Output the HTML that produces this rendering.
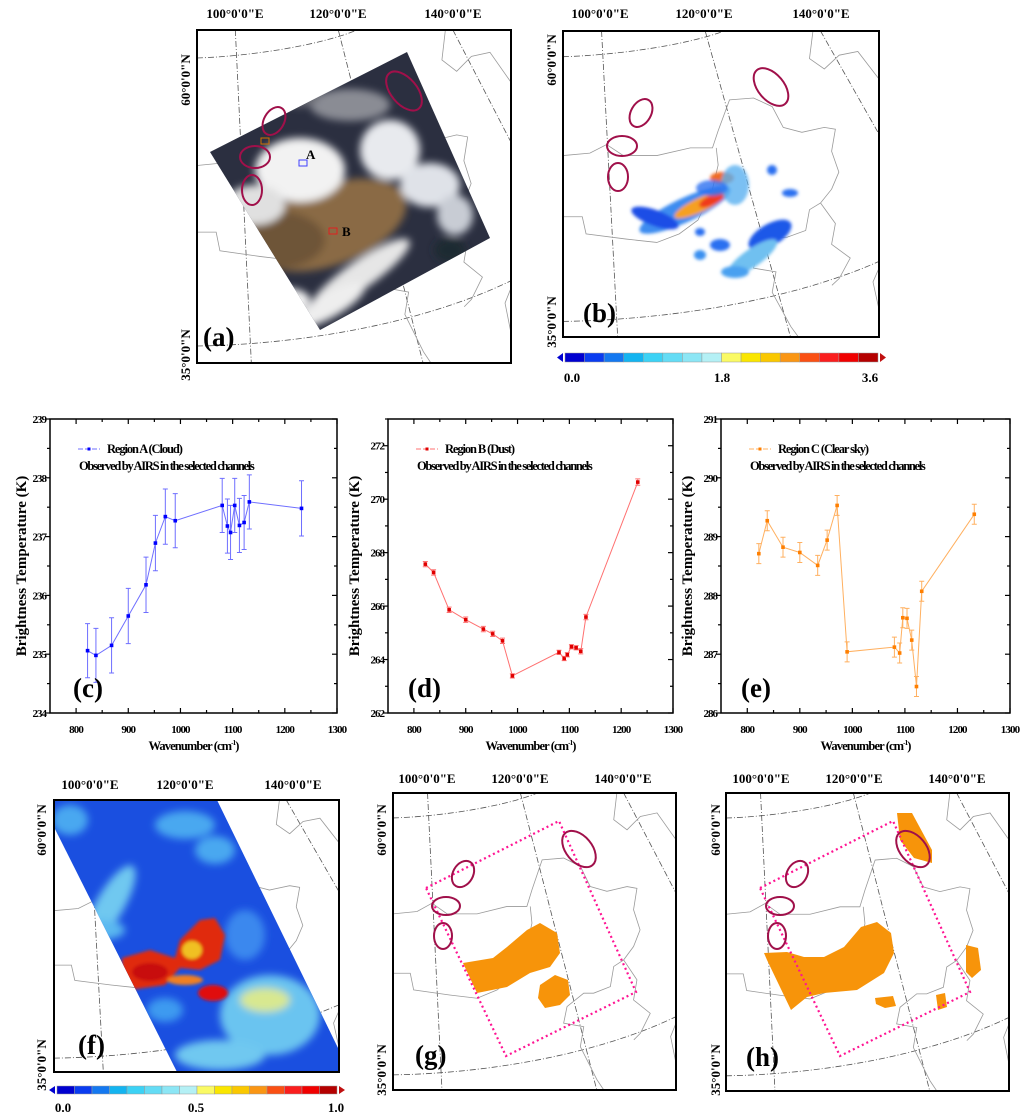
<!DOCTYPE html>
<html><head><meta charset="utf-8">
<style>
html,body{margin:0;padding:0;background:#fff;}
svg{display:block;font-family:"Liberation Serif",serif;}
.lbl{font-weight:bold;font-size:13px;}
.pl{font-weight:bold;font-size:27px;}
</style></head>
<body>
<svg id="fig" width="1024" height="1116" viewBox="0 0 1024 1116" xmlns="http://www.w3.org/2000/svg">
<defs>
<symbol id="basemap" viewBox="0 0 1000 1000" preserveAspectRatio="none">
 <g fill="none" stroke="#555" stroke-width="0.8" stroke-dasharray="6,2,1,2">
  <path vector-effect="non-scaling-stroke" d="M0,84 C150,80 380,50 510,0"/>
  <path vector-effect="non-scaling-stroke" d="M0,949 C300,945 700,890 1000,753"/>
  <path vector-effect="non-scaling-stroke" d="M122,0 L173,1000"/>
  <path vector-effect="non-scaling-stroke" d="M450,0 L720,1000"/>
  <path vector-effect="non-scaling-stroke" d="M815,0 L1000,337"/>
 </g>
 <g fill="none" stroke="#9a9a9a" stroke-width="0.8">
  <path vector-effect="non-scaling-stroke" d="M0,407 L85,399 L138,371 L191,407 L297,407 L403,382 L473,382 L491,326 L527,225 L603,219 L662,247 L697,315 L756,331 L827,315 L862,321 L850,393 L873,461 L850,517 L815,562 L780,584 L768,652 L709,674 L674,674 L615,719 L603,775 L674,787 L662,854 L721,966 L745,1000"/>
  <path vector-effect="non-scaling-stroke" d="M0,607 L61,607 L73,663 L200,680 L297,691 L368,663 L427,618 L473,517 L491,438 L485,382"/>
  <path vector-effect="non-scaling-stroke" d="M815,562 L862,629 L850,697 L909,742 L874,809 L851,831"/>
  <path vector-effect="non-scaling-stroke" d="M791,0 L780,90 L827,124 L874,79 L933,67 L1000,157"/>
  <path vector-effect="non-scaling-stroke" d="M1000,775 L981,820 L1000,910"/>
 </g>
</symbol>
<clipPath id="ca"><rect x="197" y="30" width="314" height="333"/></clipPath>
<clipPath id="cb"><rect x="563" y="31" width="316" height="306"/></clipPath>
<clipPath id="cf"><rect x="54" y="800" width="285" height="272"/></clipPath>
<clipPath id="cg"><rect x="393" y="793" width="283" height="297"/></clipPath>
<clipPath id="ch"><rect x="726" y="793" width="283" height="298"/></clipPath>
<clipPath id="satclip"><polygon points="407,52 490,238 320,330 210,152"/></clipPath>
<clipPath id="swclip"><polygon points="54,800 217,800 339,1050 339,1072 177,1072 54,827"/></clipPath>
<filter id="blur3"><feGaussianBlur stdDeviation="4"/></filter>
<filter id="blur2"><feGaussianBlur stdDeviation="1.5"/></filter>
</defs>

<!-- ===== Map (a) ===== -->
<g>
 <g clip-path="url(#ca)">
  <use href="#basemap" x="197" y="30" width="314" height="333"/>
  <g clip-path="url(#satclip)">
   <rect x="200" y="40" width="300" height="300" fill="#2b2f40"/>
   <g filter="url(#blur3)">
    <ellipse cx="330" cy="225" rx="80" ry="40" fill="#8a6a45" transform="rotate(-20 330 225)"/>
    <ellipse cx="270" cy="240" rx="55" ry="30" fill="#6e5538"/>
    <ellipse cx="300" cy="170" rx="45" ry="32" fill="#f2f2f2"/>
    <ellipse cx="255" cy="205" rx="30" ry="20" fill="#e0e0e0"/>
    <ellipse cx="390" cy="150" rx="30" ry="30" fill="#e8eaee"/>
    <ellipse cx="430" cy="185" rx="30" ry="22" fill="#dfe2e8"/>
    <ellipse cx="455" cy="215" rx="18" ry="20" fill="#c8ccd4"/>
    <ellipse cx="360" cy="275" rx="60" ry="14" fill="#e6e6e6" transform="rotate(-35 360 275)"/>
    <ellipse cx="330" cy="305" rx="40" ry="12" fill="#eeeeee" transform="rotate(-30 330 305)"/>
    <ellipse cx="350" cy="105" rx="40" ry="16" fill="#8a8c94"/>
    <ellipse cx="300" cy="95" rx="20" ry="12" fill="#6a6c74"/>
    <ellipse cx="450" cy="250" rx="16" ry="12" fill="#1e2a30"/>
    <ellipse cx="285" cy="300" rx="25" ry="12" fill="#f4f4f4"/>
   </g>
  </g>
  <g fill="none" stroke="#a0104a" stroke-width="2">
   <ellipse cx="274" cy="121" rx="10" ry="15" transform="rotate(30 274 121)"/>
   <ellipse cx="255" cy="157" rx="15" ry="11"/>
   <ellipse cx="252" cy="190" rx="10" ry="15"/>
   <ellipse cx="404" cy="91" rx="13" ry="23" transform="rotate(-40 404 91)"/>
  </g>
  <rect x="261" y="138" width="8" height="6" fill="none" stroke="#d07000" stroke-width="1"/>
  <rect x="299" y="160" width="8" height="6" fill="none" stroke="#4040ff" stroke-width="1"/>
  <rect x="329" y="228" width="8" height="6" fill="none" stroke="#e02020" stroke-width="1"/>
  <text x="306" y="159" class="lbl">A</text>
  <text x="342" y="236" class="lbl">B</text>
 </g>
 <rect x="197" y="30" width="314" height="333" fill="none" stroke="#000" stroke-width="2"/>
 <text x="235" y="18" class="lbl" text-anchor="middle">100°0'0"E</text>
 <text x="338" y="18" class="lbl" text-anchor="middle">120°0'0"E</text>
 <text x="453" y="18" class="lbl" text-anchor="middle">140°0'0"E</text>
 <text transform="translate(190,80) rotate(-90)" class="lbl" text-anchor="middle">60°0'0"N</text>
 <text transform="translate(190,355) rotate(-90)" class="lbl" text-anchor="middle">35°0'0"N</text>
 <text x="203" y="346" class="pl">(a)</text>
</g>

<!-- ===== Map (b) ===== -->
<g>
 <g clip-path="url(#cb)">
  <use href="#basemap" x="563" y="31" width="316" height="306"/>
  <g filter="url(#blur2)">
   <ellipse cx="685" cy="210" rx="50" ry="12" fill="#3c8cf0" transform="rotate(-25 685 210)"/>
   <ellipse cx="655" cy="218" rx="25" ry="8" fill="#1e4ee6" transform="rotate(20 655 218)"/>
   <ellipse cx="700" cy="205" rx="28" ry="7" fill="#f5a020" transform="rotate(-25 700 205)"/>
   <ellipse cx="712" cy="200" rx="14" ry="5" fill="#f03a1a" transform="rotate(-25 712 200)"/>
   <ellipse cx="722" cy="178" rx="12" ry="6" fill="#f06a20"/>
   <ellipse cx="735" cy="185" rx="14" ry="20" fill="#5ab0f0" opacity="0.8"/>
   <ellipse cx="712" cy="188" rx="16" ry="8" fill="#2a70f0" opacity="0.8"/>
   <ellipse cx="770" cy="235" rx="24" ry="11" fill="#1e58e8" transform="rotate(-30 770 235)"/>
   <ellipse cx="752" cy="258" rx="30" ry="9" fill="#70c0f0" transform="rotate(-35 752 258)"/>
   <ellipse cx="735" cy="272" rx="14" ry="6" fill="#4aa0f0"/>
   <ellipse cx="720" cy="245" rx="10" ry="6" fill="#2a70f0"/>
   <ellipse cx="700" cy="255" rx="6" ry="5" fill="#3a90f0"/>
   <ellipse cx="790" cy="193" rx="8" ry="4" fill="#2a70f0"/>
   <ellipse cx="772" cy="170" rx="5" ry="5" fill="#2a70f0"/>
   <ellipse cx="700" cy="232" rx="5" ry="4" fill="#2a70f0"/>
  </g>
  <g fill="none" stroke="#a0104a" stroke-width="2">
   <ellipse cx="641" cy="113" rx="10" ry="15" transform="rotate(30 641 113)"/>
   <ellipse cx="622" cy="146" rx="15" ry="10"/>
   <ellipse cx="618" cy="177" rx="10" ry="14"/>
   <ellipse cx="771" cy="87" rx="13" ry="22" transform="rotate(-40 771 87)"/>
  </g>
 </g>
 <rect x="563" y="31" width="316" height="306" fill="none" stroke="#000" stroke-width="2"/>
 <text x="600" y="18" class="lbl" text-anchor="middle">100°0'0"E</text>
 <text x="704" y="18" class="lbl" text-anchor="middle">120°0'0"E</text>
 <text x="821" y="18" class="lbl" text-anchor="middle">140°0'0"E</text>
 <text transform="translate(556,60) rotate(-90)" class="lbl" text-anchor="middle">60°0'0"N</text>
 <text transform="translate(556,322) rotate(-90)" class="lbl" text-anchor="middle">35°0'0"N</text>
 <text x="583" y="322" class="pl">(b)</text>
 <g id="cbarB"></g>
 <text x="572" y="382" class="lbl" text-anchor="middle">0.0</text>
 <text x="722" y="382" class="lbl" text-anchor="middle">1.8</text>
 <text x="870" y="382" class="lbl" text-anchor="middle">3.6</text>
</g>

<!-- ===== Charts c, d, e ===== -->
<g id="chartC"></g>
<g id="chartD"></g>
<g id="chartE"></g>

<!-- ===== Map (f) ===== -->
<g>
 <g clip-path="url(#cf)">
  <use href="#basemap" x="54" y="800" width="285" height="272"/>
  <g clip-path="url(#swclip)">
   <rect x="54" y="800" width="285" height="272" fill="#1a4fe0"/>
   <g filter="url(#blur3)">
    <ellipse cx="110" cy="905" rx="14" ry="45" fill="#70c8f0" transform="rotate(30 110 905)"/>
    <ellipse cx="70" cy="820" rx="18" ry="15" fill="#4aa8f0"/>
    <ellipse cx="185" cy="825" rx="30" ry="14" fill="#4aa8f0"/>
    <ellipse cx="215" cy="850" rx="20" ry="14" fill="#4aa8f0"/>
    <ellipse cx="245" cy="935" rx="20" ry="25" fill="#3a88ee"/>
    <ellipse cx="270" cy="1015" rx="50" ry="40" fill="#6ac4f0"/>
    <ellipse cx="265" cy="1000" rx="25" ry="12" fill="#d8e890"/>
    <ellipse cx="220" cy="1055" rx="45" ry="15" fill="#70c8f0"/>
    <ellipse cx="100" cy="930" rx="25" ry="10" fill="#5ab8f0"/>
    <ellipse cx="165" cy="1010" rx="18" ry="12" fill="#3c9af0"/>
   </g>
   <g filter="url(#blur2)">
    <polygon points="122,958 150,950 175,958 180,940 200,920 215,918 225,935 220,960 200,970 180,968 165,985 130,990 122,975" fill="#e02a10"/>
    <ellipse cx="150" cy="972" rx="18" ry="9" fill="#c81010"/>
    <ellipse cx="192" cy="950" rx="10" ry="9" fill="#f0c020"/>
    <ellipse cx="213" cy="993" rx="15" ry="8" fill="#e01010"/>
    <ellipse cx="185" cy="980" rx="18" ry="5" fill="#f08020"/>
   </g>
  </g>
 </g>
 <rect x="54" y="800" width="285" height="272" fill="none" stroke="#000" stroke-width="2"/>
 <text x="90" y="789" class="lbl" text-anchor="middle">100°0'0"E</text>
 <text x="185" y="789" class="lbl" text-anchor="middle">120°0'0"E</text>
 <text x="293" y="789" class="lbl" text-anchor="middle">140°0'0"E</text>
 <text transform="translate(46,830) rotate(-90)" class="lbl" text-anchor="middle">60°0'0"N</text>
 <text transform="translate(46,1065) rotate(-90)" class="lbl" text-anchor="middle">35°0'0"N</text>
 <text x="78" y="1054" class="pl">(f)</text>
 <g id="cbarF"></g>
 <text x="63" y="1112" class="lbl" text-anchor="middle">0.0</text>
 <text x="196" y="1112" class="lbl" text-anchor="middle">0.5</text>
 <text x="336" y="1112" class="lbl" text-anchor="middle">1.0</text>
</g>

<!-- ===== Map (g) ===== -->
<g>
 <g clip-path="url(#cg)">
  <use href="#basemap" x="393" y="793" width="283" height="297"/>
  <g fill="#f7940a">
   <polygon points="463,963 493,958 507,947 527,930 540,923 557,933 560,953 550,967 530,973 507,987 477,993"/>
   <polygon points="540,985 555,975 568,980 570,995 560,1005 545,1008 538,998"/>
  </g>
  <polygon points="426,888 559,821 636,992 506,1056" fill="none" stroke="#ff1493" stroke-width="2.2" stroke-dasharray="2,3"/>
  <g fill="none" stroke="#a0104a" stroke-width="2">
   <ellipse cx="463" cy="874" rx="10" ry="14" transform="rotate(30 463 874)"/>
   <ellipse cx="446" cy="906" rx="14" ry="9"/>
   <ellipse cx="443" cy="936" rx="9" ry="13"/>
   <ellipse cx="579" cy="849" rx="13" ry="21" transform="rotate(-40 579 849)"/>
  </g>
 </g>
 <rect x="393" y="793" width="283" height="297" fill="none" stroke="#000" stroke-width="2"/>
 <text x="427" y="783" class="lbl" text-anchor="middle">100°0'0"E</text>
 <text x="520" y="783" class="lbl" text-anchor="middle">120°0'0"E</text>
 <text x="623" y="783" class="lbl" text-anchor="middle">140°0'0"E</text>
 <text transform="translate(386,830) rotate(-90)" class="lbl" text-anchor="middle">60°0'0"N</text>
 <text transform="translate(386,1070) rotate(-90)" class="lbl" text-anchor="middle">35°0'0"N</text>
 <text x="415" y="1064" class="pl">(g)</text>
</g>

<!-- ===== Map (h) ===== -->
<g>
 <g clip-path="url(#ch)">
  <use href="#basemap" x="726" y="793" width="283" height="298"/>
  <g fill="#f7940a">
   <polygon points="764,953 787,952 804,957 824,957 844,947 861,927 877,922 891,933 894,953 884,973 857,990 824,993 807,997 791,1010 767,960"/>
   <polygon points="897,813 912,813 932,850 932,863 914,858 900,840"/>
   <polygon points="966,945 978,948 981,970 972,978 966,972"/>
   <polygon points="936,995 945,993 947,1007 938,1010"/>
   <polygon points="875,998 893,996 896,1006 885,1008 876,1004"/>
  </g>
  <polygon points="760,888 893,821 970,992 840,1056" fill="none" stroke="#ff1493" stroke-width="2.2" stroke-dasharray="2,3"/>
  <g fill="none" stroke="#a0104a" stroke-width="2">
   <ellipse cx="797" cy="874" rx="10" ry="14" transform="rotate(30 797 874)"/>
   <ellipse cx="780" cy="906" rx="14" ry="9"/>
   <ellipse cx="777" cy="936" rx="9" ry="13"/>
   <ellipse cx="913" cy="849" rx="13" ry="21" transform="rotate(-40 913 849)"/>
  </g>
 </g>
 <rect x="726" y="793" width="283" height="298" fill="none" stroke="#000" stroke-width="2"/>
 <text x="761" y="783" class="lbl" text-anchor="middle">100°0'0"E</text>
 <text x="854" y="783" class="lbl" text-anchor="middle">120°0'0"E</text>
 <text x="957" y="783" class="lbl" text-anchor="middle">140°0'0"E</text>
 <text transform="translate(720,830) rotate(-90)" class="lbl" text-anchor="middle">60°0'0"N</text>
 <text transform="translate(720,1070) rotate(-90)" class="lbl" text-anchor="middle">35°0'0"N</text>
 <text x="746" y="1066" class="pl">(h)</text>
</g>
</svg>

<script>
// ---- chart data ----
var wavenumbers = [822, 838, 868, 900, 934, 952, 971, 990, 1080, 1090, 1096, 1104, 1113, 1122, 1132, 1232];
var btCloud = [235.06, 234.98, 235.15, 235.65, 236.18, 236.89, 237.34, 237.27, 237.53, 237.18, 237.07, 237.53, 237.19, 237.24, 237.59, 237.48];
var errCloud = [0.46, 0.46, 0.47, 0.47, 0.47, 0.47, 0.47, 0.46, 0.46, 0.46, 0.46, 0.46, 0.46, 0.46, 0.46, 0.47];
var btDust = [267.57, 267.26, 265.86, 265.49, 265.14, 264.96, 264.70, 263.39, 264.27, 264.04, 264.18, 264.48, 264.44, 264.31, 265.59, 270.64];
var errDust = [0.1, 0.1, 0.1, 0.1, 0.1, 0.1, 0.1, 0.08, 0.08, 0.08, 0.08, 0.08, 0.08, 0.1, 0.1, 0.12];
var btClear = [288.71, 289.27, 288.82, 288.73, 288.51, 288.94, 289.53, 287.04, 287.12, 287.02, 287.62, 287.61, 287.24, 286.45, 288.07, 289.38];
var errClear = [0.17, 0.17, 0.17, 0.17, 0.17, 0.17, 0.17, 0.17, 0.17, 0.17, 0.17, 0.17, 0.17, 0.17, 0.17, 0.17];
var xTickLabels = ["800", "900", "1000", "1100", "1200", "1300"];
var yTicksCloud = ["234", "235", "236", "237", "238", "239"];
var yTicksDust = ["262", "264", "266", "268", "270", "272"];
var yTicksClear = ["286", "287", "288", "289", "290", "291"];
var cbarColors = ["#0000d0","#0a3cf0","#1478f0","#14b4f0","#3cd2f5","#64dcf5","#8ce6f5","#b4f0f5","#fafa64","#fae600","#fac800","#fa9614","#fa5014","#fa1e1e","#f00000","#b40000"];

var NS = "http://www.w3.org/2000/svg";
function mk(parent, tag, attrs, txt) {
  var e = document.createElementNS(NS, tag);
  for (var k in attrs) e.setAttribute(k, attrs[k]);
  if (txt !== undefined) e.textContent = txt;
  parent.appendChild(e);
  return e;
}

function drawChart(gid, cfg, vals, errs, yLabels) {
  var g = document.getElementById(gid);
  var L = cfg.left, R = cfg.right, T = 419, B = 713;
  var xmin = 750, xmax = 1300, ymin = cfg.ymin, ymax = cfg.ymax;
  function sx(v) { return L + (v - xmin) / (xmax - xmin) * (R - L); }
  function sy(v) { return B - (v - ymin) / (ymax - ymin) * (B - T); }
  var frame = mk(g, "rect", {x: L, y: T, width: R - L, height: B - T, fill: "none", stroke: "#000", "stroke-width": 1.5});
  
  
  for (var w = 800; w <= 1300; w += 50) {
    var len = (w % 100 === 0) ? 5 : 3;
    mk(g, "line", {x1: sx(w), x2: sx(w), y1: B, y2: B - len, stroke: "#000", "stroke-width": 1.2});
    mk(g, "line", {x1: sx(w), x2: sx(w), y1: T, y2: T + len, stroke: "#000", "stroke-width": 1.2});
  }
  for (var i = 0; i < xTickLabels.length; i++) {
    var t = mk(g, "text", {x: sx(+xTickLabels[i]), y: 733, "text-anchor": "middle", "font-size": 11, "font-weight": "bold", "letter-spacing": "-0.9"}, xTickLabels[i]);
    
    
  }
  var step = cfg.ystep;
  for (var v = ymin; v <= ymax + 1e-9; v += step / 2) {
    var major = Math.abs((v - ymin) / step - Math.round((v - ymin) / step)) < 1e-6;
    var l2 = major ? 5 : 3;
    mk(g, "line", {x1: L - l2, x2: L, y1: sy(v), y2: sy(v), stroke: "#000", "stroke-width": 1.2});
    mk(g, "line", {x1: R, x2: R - l2, y1: sy(v), y2: sy(v), stroke: "#000", "stroke-width": 1.2});
  }
  for (var j = 0; j < yLabels.length; j++) {
    var yl = mk(g, "text", {x: L - 4, y: sy(+yLabels[j]) + 4, "text-anchor": "end", "font-size": 11, "font-weight": "bold", "letter-spacing": "-1"}, yLabels[j]);
    
    
  }
  var yt = mk(g, "text", {transform: "translate(" + cfg.ytx + ",566) rotate(-90)", "text-anchor": "middle", "font-size": 15, "font-weight": "bold"}, "Brightness Temperature (K)");
  
  
  var xt = mk(g, "text", {x: (L + R) / 2, y: 750, "text-anchor": "middle", "font-size": 12.5, "font-weight": "bold", "letter-spacing": "-0.9"}, "Wavenumber (cm");
  
  
  mk(xt, "tspan", {"font-size": 7, dy: -5}, "-1");
  mk(xt, "tspan", {dy: 5}, ")");
  var pts = [];
  for (var k = 0; k < wavenumbers.length; k++) pts.push(sx(wavenumbers[k]).toFixed(1) + "," + sy(vals[k]).toFixed(1));
  var pl = mk(g, "polyline", {points: pts.join(" "), fill: "none", stroke: cfg.lineColor, "stroke-width": 1});
  
  
  for (var k2 = 0; k2 < wavenumbers.length; k2++) {
    var x = sx(wavenumbers[k2]), y1 = sy(vals[k2] + errs[k2]), y2 = sy(vals[k2] - errs[k2]);
    var eb = mk(g, "path", {d: "M" + x + "," + y1 + "V" + y2 + "M" + (x - 2.5) + "," + y1 + "h5M" + (x - 2.5) + "," + y2 + "h5", stroke: cfg.lineColor, "stroke-width": 1, fill: "none"});
    
    
    var m = mk(g, "rect", {x: x - 1.8, y: sy(vals[k2]) - 1.8, width: 3.6, height: 3.6, fill: cfg.markColor});
    
    
  }
  var lg = mk(g, "g", {});
  
  
  mk(lg, "line", {x1: L + 28, x2: L + 50, y1: 449, y2: 449, stroke: cfg.lineColor, "stroke-width": 1, "stroke-dasharray": "5,2"});
  mk(lg, "rect", {x: L + 37.5, y: 447.5, width: 3, height: 3, fill: cfg.markColor});
  mk(lg, "text", {x: L + 57, y: 453, "font-size": 12.5, "font-weight": "bold", "letter-spacing": "-1.1"}, cfg.name);
  mk(lg, "text", {x: L + 29, y: 470, "font-size": 12.5, "font-weight": "bold", "letter-spacing": "-1.3"}, "Observed by AIRS in the selected channels");
  var pn = mk(g, "text", {x: cfg.panelX, y: 697, "font-size": 27, "font-weight": "bold"}, cfg.panel);
  
  
}

drawChart("chartC", {left: 50, right: 337, ymin: 234, ymax: 239, ystep: 1, ytx: 26, lineColor: "#6f6fff", markColor: "#0000ff", name: "Region A (Cloud)", panel: "(c)", panelX: 73}, btCloud, errCloud, yTicksCloud);
drawChart("chartD", {left: 388, right: 673, ymin: 262, ymax: 273, ystep: 2, ytx: 359, lineColor: "#ff7070", markColor: "#e00000", name: "Region B (Dust)", panel: "(d)", panelX: 408}, btDust, errDust, yTicksDust);
drawChart("chartE", {left: 721, right: 1010, ymin: 286, ymax: 291, ystep: 1, ytx: 692, lineColor: "#ffb060", markColor: "#ff7f00", name: "Region C (Clear sky)", panel: "(e)", panelX: 741}, btClear, errClear, yTicksClear);

function drawBar(gid, x0, x1, y, h) {
  var g = document.getElementById(gid);
  var w = (x1 - x0) / cbarColors.length;
  for (var i = 0; i < cbarColors.length; i++) {
    var r = mk(g, "rect", {x: x0 + i * w, y: y, width: w, height: h, fill: cbarColors[i], stroke: "#999", "stroke-width": 0.5});
    
    
  }
  mk(g, "polygon", {points: (x0 - 2) + "," + y + " " + (x0 - 2) + "," + (y + h) + " " + (x0 - 8) + "," + (y + h / 2), fill: "#0000d0"});
  mk(g, "polygon", {points: (x1 + 2) + "," + y + " " + (x1 + 2) + "," + (y + h) + " " + (x1 + 8) + "," + (y + h / 2), fill: "#c01010"});
}
drawBar("cbarB", 565, 878, 353, 9);
drawBar("cbarF", 57, 337, 1086, 8);
</script>
</body></html>
